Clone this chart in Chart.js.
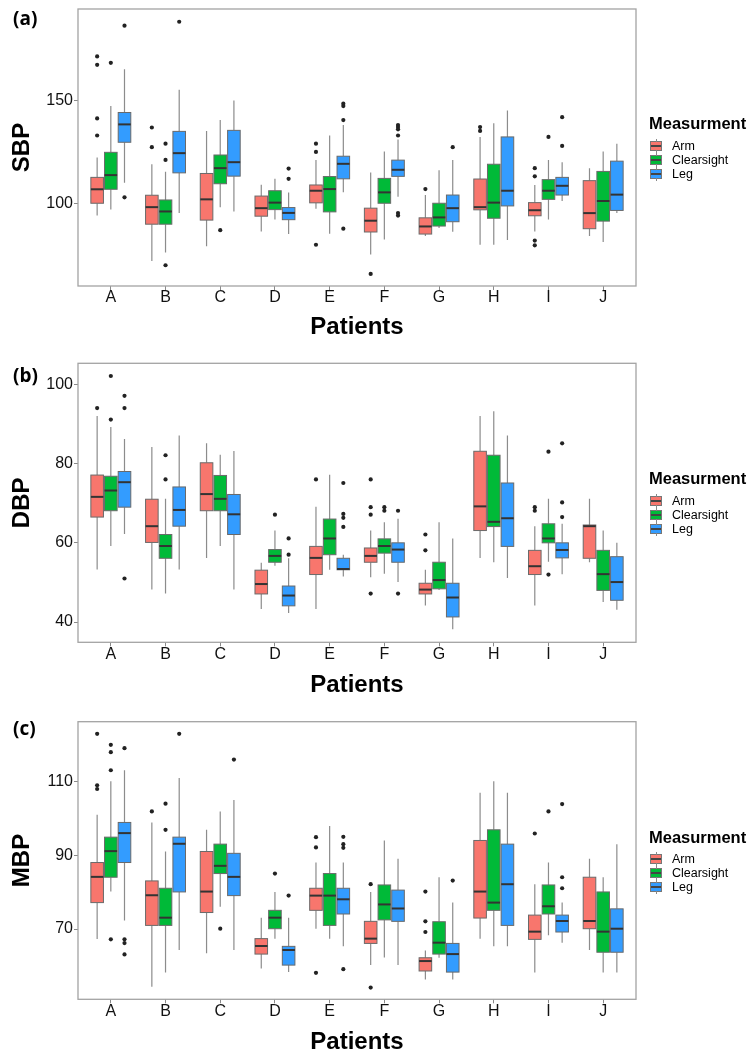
<!DOCTYPE html>
<html>
<head>
<meta charset="utf-8">
<script src="https://cdn.jsdelivr.net/npm/chart.js@4.4.1/dist/chart.umd.min.js"></script>
<style>
  html, body { margin:0; padding:0; background:#fff; }
  #wrap { position:relative; width:754px; height:1061px; background:#fff; overflow:hidden; }
  .panel { position:absolute; left:0; width:754px; }
  .panel canvas { display:block; }
  .plabel { position:absolute; left:13px; font-family:"Open Sans", "Liberation Sans", sans-serif; font-weight:700; font-size:19px; line-height:20px; color:#000; }
  .legtitle { position:absolute; left:649px; font-family:"Liberation Sans", Arial, sans-serif; font-weight:700; font-size:16.5px; line-height:18px; color:#000; }
  .legitem { position:absolute; left:650px; height:14px; width:100px; font-family:"Liberation Sans", Arial, sans-serif; font-size:12.5px; line-height:14px; color:#000; }
  .legitem .key { position:absolute; left:0; top:2px; width:10px; height:8px; border:1px solid #777; }
  .legitem .key .med { position:absolute; left:0; right:0; top:3px; height:2px; background:#444; }
  .legitem .key .wt { position:absolute; left:5px; top:-3px; width:1px; height:3px; background:#888; }
  .legitem .key .wb { position:absolute; left:5px; bottom:-3px; width:1px; height:3px; background:#888; }
  .legitem span.txt { position:absolute; left:22px; top:0; white-space:nowrap; }
</style>
</head>
<body>
<div id="wrap">
  <div class="panel" style="top:0px;height:345px"><canvas id="c1" width="754" height="345"></canvas></div>
  <div class="panel" style="top:345px;height:355px"><canvas id="c2" width="754" height="355"></canvas></div>
  <div class="panel" style="top:700px;height:361px"><canvas id="c3" width="754" height="361"></canvas></div>
  <div class="plabel" style="top:8px">(a)</div>
  <div class="plabel" style="top:365px">(b)</div>
  <div class="plabel" style="top:718px">(c)</div>
</div>
<script>
// ---------------- data ----------------
const patients = ['A','B','C','D','E','F','G','H','I','J'];
const series = ['Arm','Clearsight','Leg'];
const seriesColors = ['#F8766D','#00BA38','#339CFF'];

// each entry: [lower whisker, Q1, median, Q3, upper whisker]
const sbpArm = [[94.0,100,106.8,112.6,122.3],[71.9,89.8,98.1,103.9,119],[79,91.8,101.9,114.5,135.2],[86.3,93.7,97.6,103.5,109],[97.3,100.2,106.1,108.9,121.1],[75,86,91.5,97.6,115],[84,85,88.7,92.9,104],[79.8,96.8,98.1,111.8,132.3],[86.3,93.9,96.6,100.3,108.9],[84,87.6,95.2,111,117.1]];
const sbpClear = [[96.9,106.8,113.7,124.8,147.3],[76,89.8,96,101.6,115.3],[98.1,109.5,117.1,123.5,140.5],[92.1,96.9,100.3,106.1,111.9],[85.2,95.8,106.9,113,133],[82.3,100,105.3,112.1,125.2],[87.9,88.9,93.1,100,116.1],[79.8,92.7,100.3,119,139],[92.1,101.9,106.1,111.5,121.1],[81.1,91.3,101.1,115.5,125.2]];
const sbpLeg = [[110,129.7,138.4,144.2,165.3],[95.2,114.8,124.4,135,155.3],[96,113.2,120,135.5,150],[85,92,95.3,97.9,105.2],[105.3,111.9,119.2,122.9,138.1],[103.2,113.1,116.3,121,131.1],[86.1,91,97.6,104,121.1],[82.1,98.7,106.1,132.3,145.2],[101.1,104,108.5,112.6,120],[95.3,96.5,104.2,120.5,129]];
const sbpArmOut = [[171.5,167.4,141.3,133],[136.9,127.3],[],[],[129,125,79.8],[65.6],[106.9],[137.1,135.2],[117.1,113.1,81.8,79.5],[]];
const sbpClearOut = [[168.4],[121.1,129,69.8],[86.9],[],[],[],[],[],[132.3],[]];
const sbpLegOut = [[186.5,102.9],[188.4],[],[116.9,111.9],[148.5,147.3,140.5,87.6],[138.1,137.1,136,133,95.2,94],[127.3],[],[141.9,127.9],[]];
const sbpTicks = [100,150];
const sbpRange = [59.7,194.6];

const dbpArm = [[53.3,66.5,71.6,77.1,92],[48.2,60.1,64.2,71,84.2],[56.2,68.1,72.3,80.2,85.1],[43.3,47.1,49.6,53.1,55],[43.3,52,56.2,59.1,69.1],[51.3,55.1,56.7,58.7,63.1],[44.2,47.1,48.2,49.8,53.2],[56.2,63.1,69.2,83.1,92],[44.2,52,54.1,58.1,64.2],[55.1,56.1,64.2,64.5,71.1]];
const dbpClear = [[59.2,68.1,73.2,76.8,89.2],[47.2,56.1,59.2,62.1,71.1],[59.2,68.1,71.1,77,82.2],[54.2,55.1,56.7,58.3,63.1],[53.2,57,61.1,66,77.2],[52.2,57.4,59.2,61,65.2],[48.1,48.4,50.6,55.1,65.2],[55.1,64.1,65.3,82.1,93.2],[55.2,60,61.1,64.8,71.1],[45.1,48,52.1,58.1,63.1]];
const dbpLeg = [[62.2,69,75.3,78,86.2],[53.3,64.2,68.3,74.1,87.1],[48.2,62.1,67.2,72.2,83.2],[42.3,44.1,46.7,49.1,56.1],[51.5,53.2,53.4,56.1,57],[50.1,55.1,58.3,60,66.1],[38.2,41.3,46.2,49.8,61.1],[51.1,59.1,66.2,75.1,87.1],[52.1,56.2,58.2,60,64.8],[43.1,45.5,50.1,56.5,60]];
const dbpArmOut = [[94],[],[],[],[76],[76,69,67.1,47.2],[62.1,58.1],[],[69,68.1],[]];
const dbpClearOut = [[102.1,91.1],[82.1,76],[],[67.1],[],[69,68.1],[],[],[83,52],[]];
const dbpLegOut = [[97.1,94,51],[],[],[61.1,57],[75.1,67.3,66.3,64],[68.1,47.2],[],[],[85.1,70.2,66.5],[]];
const dbpTicks = [40,60,80,100];
const dbpRange = [34.9,105.3];

const mbpArm = [[67.3,77.2,84.2,88.1,101.1],[54.3,71,79.2,83.1,99],[63.4,74.5,80.2,91.1,97],[59.3,63.2,65.4,67.4,73.1],[70.1,75.1,79.1,81.1,88.1],[60.2,66.1,67.4,72.1,80.1],[56.3,58.6,61.3,62.2,64.2],[67.4,73,80.2,94.1,107.1],[58.2,67.2,69.3,73.8,82.2],[64.3,70.1,72.2,84.1,89.1]];
const mbpClear = [[80.2,84.1,91.2,95,110.2],[58.2,71,73.1,81.1,91.1],[76.1,85.1,87.2,93.1,102],[67.4,70.1,73.1,75.1,80.1],[67.4,71,79.1,85.1,98],[62.3,72.5,76.7,82,94.1],[62.2,63.2,66.3,72,84.1],[65.3,75.1,77.2,97,110.2],[68.3,74.1,76.2,82,88.1],[58.2,63.7,69.3,80.1,84.1]];
const mbpLeg = [[72.3,88.1,96.1,99,113.2],[64.3,80.1,93.2,95,111.1],[64.3,79.1,84.2,90.6,105.1],[58.3,60.2,64.3,65.3,73.1],[65.3,74.1,78.1,81.1,88.1],[60.2,72.1,75.6,80.6,89.1],[56.3,58.3,63.2,66.1,77.2],[65.3,71,82.2,93.1,107.1],[66.3,69.2,72.2,73.8,77.2],[58.2,63.7,70.1,75.5,93.1]];
const mbpArmOut = [[123.1,109.1,108.1],[102],[],[],[95,92.2,58.1],[82.2,54.1],[80.2,72.1,69.2],[],[96],[]];
const mbpClearOut = [[120.1,118.1,113.2,67.2],[104.1,97],[70.1],[85.1],[],[],[],[],[102],[]];
const mbpLegOut = [[119.2,67.2,66.2,63.1],[123.1],[116.1],[79.1],[95.1,93.1,92.1,59.1],[],[83.2],[],[104,84.1,81.1],[]];
const mbpTicks = [70,90,110];
const mbpRange = [50.9,126.4];

// ---------------- drawing ----------------
const FONT = '"Liberation Sans", Arial, sans-serif';
const dodge = [-0.25, 0, 0.25];
const boxWidth = 0.23;

const panels = [
  { id:'c1', title:'SBP', stats:[sbpArm,sbpClear,sbpLeg], outs:[sbpArmOut,sbpClearOut,sbpLegOut], ticks:sbpTicks, range:sbpRange, padTop:7, xAxisH:59, xTitlePad:5.2, legTop:123.3 },
  { id:'c2', title:'DBP', stats:[dbpArm,dbpClear,dbpLeg], outs:[dbpArmOut,dbpClearOut,dbpLegOut], ticks:dbpTicks, range:dbpRange, padTop:18.3, xAxisH:57.7, xTitlePad:2.5, legTop:478.3 },
  { id:'c3', title:'MBP', stats:[mbpArm,mbpClear,mbpLeg], outs:[mbpArmOut,mbpClearOut,mbpLegOut], ticks:mbpTicks, range:mbpRange, padTop:21.7, xAxisH:61.7, xTitlePad:6.5, legTop:836.7 }
];

function makeBoxPlugin(p) {
  return {
    id: 'boxes_' + p.id,
    beforeDatasetsDraw(chart) {
      const ctx = chart.ctx, xs = chart.scales.x, ys = chart.scales.y;
      const half = (xs.getPixelForValue(boxWidth / 2) - xs.getPixelForValue(0));
      ctx.save();
      p.stats.forEach((arr, s) => {
        arr.forEach((st, i) => {
          const cx = xs.getPixelForValue(i + dodge[s]);
          const [lo, q1, med, q3, hi] = st.map(v => ys.getPixelForValue(v));
          // whiskers
          ctx.strokeStyle = '#8c8c8c';
          ctx.lineWidth = 1.2;
          ctx.beginPath();
          ctx.moveTo(cx, hi); ctx.lineTo(cx, q3);
          ctx.moveTo(cx, q1); ctx.lineTo(cx, lo);
          ctx.stroke();
          // box
          ctx.fillStyle = seriesColors[s];
          ctx.fillRect(cx - half, q3, 2 * half, q1 - q3);
          ctx.strokeStyle = '#6a6a6a';
          ctx.lineWidth = 1;
          ctx.strokeRect(cx - half, q3, 2 * half, q1 - q3);
          // median
          ctx.strokeStyle = '#333333';
          ctx.lineWidth = 2;
          ctx.beginPath();
          ctx.moveTo(cx - half, med); ctx.lineTo(cx + half, med);
          ctx.stroke();
        });
      });
      ctx.restore();
    },
    afterDraw(chart) {
      const a = chart.chartArea, ctx = chart.ctx;
      ctx.save();
      ctx.strokeStyle = '#a3a3a3';
      ctx.lineWidth = 1.3;
      ctx.strokeRect(a.left, a.top, a.right - a.left, a.bottom - a.top);
      ctx.restore();
    }
  };
}

panels.forEach(p => {
  const datasets = series.map((name, s) => ({
    label: name,
    data: p.outs[s].flatMap((arr, i) => arr.map(v => ({ x: i + dodge[s], y: v }))),
    pointRadius: 2.1,
    pointHoverRadius: 2.1,
    pointBackgroundColor: '#222',
    pointBorderWidth: 0,
    showLine: false
  }));
  new Chart(document.getElementById(p.id), {
    type: 'scatter',
    data: { datasets },
    options: {
      responsive: false,
      animation: false,
      devicePixelRatio: 1,
      layout: { padding: { left: 0, right: 118, top: p.padTop, bottom: 0 } },
      plugins: { legend: { display: false }, tooltip: { enabled: false } },
      scales: {
        x: {
          type: 'linear', min: -0.6, max: 9.6,
          afterBuildTicks: s => { s.ticks = patients.map((_, i) => ({ value: i })); },
          afterFit: s => { s.height = p.xAxisH; },
          ticks: { callback: v => patients[v], font: { size: 16, family: FONT, lineHeight: 1 }, color: '#111', padding: 0, maxRotation: 0, autoSkip: false },
          grid: { display: true, drawOnChartArea: false, drawTicks: true, tickLength: 4, tickColor: '#8a8a8a', tickWidth: 1 },
          border: { display: false },
          title: { display: true, text: 'Patients', color: '#000', font: { size: 24, weight: 'bold', family: FONT, lineHeight: 1 }, padding: { top: 0, bottom: p.xTitlePad } }
        },
        y: {
          type: 'linear', min: p.range[0], max: p.range[1],
          afterBuildTicks: s => { s.ticks = p.ticks.map(v => ({ value: v })); },
          afterFit: s => { s.width = 78; },
          ticks: { font: { size: 16, family: FONT, lineHeight: 1 }, color: '#111', padding: 1 },
          grid: { display: true, drawOnChartArea: false, drawTicks: true, tickLength: 4, tickColor: '#8a8a8a', tickWidth: 1 },
          border: { display: false },
          title: { display: true, text: p.title, color: '#000', font: { size: 24, weight: 'bold', family: FONT, lineHeight: 1 }, padding: { top: 10, bottom: 0 } }
        }
      }
    },
    plugins: [makeBoxPlugin(p)]
  });

  // legend (HTML)
  const wrap = document.getElementById('wrap');
  const t = document.createElement('div');
  t.className = 'legtitle';
  t.style.top = (p.legTop - 9) + 'px';
  t.textContent = 'Measurment';
  wrap.appendChild(t);
  series.forEach((name, s) => {
    const it = document.createElement('div');
    it.className = 'legitem';
    it.style.top = (p.legTop + 22.7 + 14 * s - 7) + 'px';
    it.innerHTML = '<div class="key" style="background:' + seriesColors[s] + '"><div class="wt"></div><div class="wb"></div><div class="med"></div></div><span class="txt"></span>';
    it.querySelector('.txt').textContent = name;
    wrap.appendChild(it);
  });
});
</script>
</body>
</html>
